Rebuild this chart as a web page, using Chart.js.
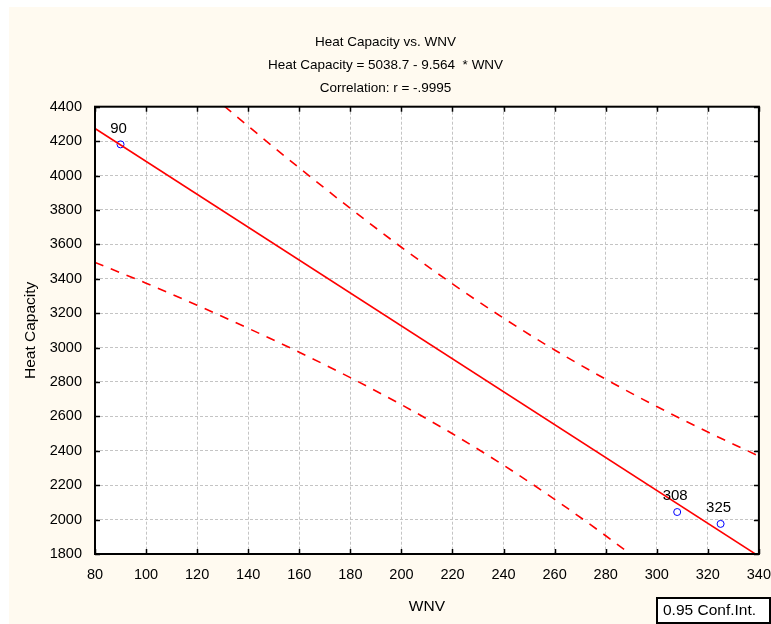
<!DOCTYPE html>
<html>
<head>
<meta charset="utf-8">
<script src="https://cdn.jsdelivr.net/npm/chart.js@4/dist/chart.umd.min.js"></script>
<style>
  html, body { margin: 0; padding: 0; background: #ffffff; }
  #c { display: block; }
</style>
</head>
<body>
<canvas id="c" width="771" height="624"></canvas>
<script>
// Observed cases (WNV, Heat Capacity) and their case labels
const wnvObs   = [90, 308, 325];
const heatObs  = [4181, 2044, 1975];
const obsLabels = ['90', '308', '325'];

// Fitted regression: Heat Capacity = 5038.7 - 9.564 * WNV
const fitIntercept = 5038.7;
const fitSlope = -9.564;
const fitRange = [80, 340];

// 0.95 confidence band around the fit
const bandX     = [80, 100, 120, 140, 160, 180, 200, 220, 240, 260, 280, 300, 320, 340];
const bandUpper = [5045, 4789, 4536, 4287, 4044, 3809, 3583, 3370, 3171, 2986, 2816, 2657, 2509, 2369];
const bandLower = [3495, 3374, 3246, 3112, 2973, 2825, 2668, 2499, 2316, 2118, 1906, 1682, 1447, 1205];

// Axis ticks
const xTicks = [80, 100, 120, 140, 160, 180, 200, 220, 240, 260, 280, 300, 320, 340];
const yTicks = [1800, 2000, 2200, 2400, 2600, 2800, 3000, 3200, 3400, 3600, 3800, 4000, 4200, 4400];

// Text
const titleLines = ['Heat Capacity vs. WNV', 'Heat Capacity = 5038.7 - 9.564  * WNV', 'Correlation: r = -.9995'];
const xTitle = 'WNV';
const yTitle = 'Heat Capacity';
const bandLegend = '0.95 Conf.Int.';

const FONT = "'Liberation Sans', Arial, Helvetica, sans-serif";
const CREAM = '#fffaf0';
const RED = '#ff0000';

// Page background: cream panel and white plotting area
const backgroundPlugin = {
  id: 'panelBackground',
  beforeDraw(chart) {
    const { ctx, chartArea: a } = chart;
    ctx.save();
    ctx.fillStyle = '#ffffff';
    ctx.fillRect(0, 0, chart.width, chart.height);
    ctx.fillStyle = CREAM;
    ctx.fillRect(9, 7, chart.width - 9, chart.height - 7);
    ctx.fillStyle = '#ffffff';
    ctx.fillRect(a.left, a.top, a.right - a.left, a.bottom - a.top);
    ctx.restore();
  }
};

// Box frame with inward tick marks on all four sides
const framePlugin = {
  id: 'boxFrame',
  afterDatasetsDraw(chart) {
    const { ctx, chartArea: a, scales } = chart;
    const len = 5;
    ctx.save();
    ctx.strokeStyle = '#000000';
    ctx.lineWidth = 1.5;
    ctx.beginPath();
    xTicks.forEach(v => {
      const px = Math.round(scales.x.getPixelForValue(v)) + 0.5;
      ctx.moveTo(px, a.bottom); ctx.lineTo(px, a.bottom - len);
      ctx.moveTo(px, a.top); ctx.lineTo(px, a.top + len);
    });
    yTicks.forEach(v => {
      const py = Math.round(scales.y.getPixelForValue(v)) + 0.5;
      ctx.moveTo(a.left, py); ctx.lineTo(a.left + len, py);
      ctx.moveTo(a.right, py); ctx.lineTo(a.right - len, py);
    });
    ctx.stroke();
    ctx.lineWidth = 2;
    ctx.strokeRect(a.left, a.top, a.right - a.left, a.bottom - a.top);
    ctx.restore();
  }
};

// Case labels above the observed points
const caseLabelPlugin = {
  id: 'caseLabels',
  afterDatasetsDraw(chart) {
    const { ctx } = chart;
    const meta = chart.getDatasetMeta(3);
    ctx.save();
    ctx.fillStyle = '#000000';
    ctx.font = '15px ' + FONT;
    ctx.textAlign = 'center';
    ctx.textBaseline = 'middle';
    meta.data.forEach((pt, i) => {
      ctx.fillText(obsLabels[i], pt.x - 2, pt.y - 16);
    });
    ctx.restore();
  }
};

// Legend box for the confidence band, bottom right
const bandLegendPlugin = {
  id: 'bandLegend',
  afterDraw(chart) {
    const { ctx } = chart;
    ctx.save();
    ctx.fillStyle = '#ffffff';
    ctx.fillRect(657, 598, 113, 25);
    ctx.strokeStyle = '#000000';
    ctx.lineWidth = 2;
    ctx.strokeRect(657, 598, 113, 25);
    ctx.fillStyle = '#000000';
    ctx.font = '15.5px ' + FONT;
    ctx.textAlign = 'left';
    ctx.textBaseline = 'middle';
    ctx.fillText(bandLegend, 663, 611);
    ctx.restore();
  }
};

const gridCommon = { color: '#c4c4c4', lineWidth: 1, drawTicks: false, borderDash: [3, 2] };
const borderCommon = { display: false, dash: [3, 2] };
const plainNumber = v => String(v);

new Chart(document.getElementById('c'), {
  type: 'scatter',
  data: {
    datasets: [
      {
        type: 'line',
        data: bandX.map((x, i) => ({ x, y: bandUpper[i] })),
        borderColor: RED, borderWidth: 1.6, borderDash: [9, 8],
        pointRadius: 0, cubicInterpolationMode: 'monotone', fill: false, clip: 0
      },
      {
        type: 'line',
        data: bandX.map((x, i) => ({ x, y: bandLower[i] })),
        borderColor: RED, borderWidth: 1.6, borderDash: [9, 8],
        pointRadius: 0, cubicInterpolationMode: 'monotone', fill: false, clip: 0
      },
      {
        type: 'line',
        data: fitRange.map(x => ({ x, y: fitIntercept + fitSlope * x })),
        borderColor: RED, borderWidth: 1.6,
        pointRadius: 0, fill: false, clip: 0
      },
      {
        type: 'scatter',
        data: wnvObs.map((x, i) => ({ x, y: heatObs[i] })),
        pointRadius: 3.5, pointHoverRadius: 3.5,
        pointBorderColor: '#0000ff', pointBackgroundColor: 'rgba(0,0,0,0)',
        pointBorderWidth: 1, clip: false
      }
    ]
  },
  options: {
    responsive: false,
    animation: false,
    devicePixelRatio: 1,
    layout: { padding: { left: 12, right: 12, top: 0, bottom: 0 } },
    events: [],
    plugins: {
      legend: { display: false },
      tooltip: { enabled: false },
      title: {
        display: true,
        text: titleLines,
        color: '#000000',
        font: { family: FONT, size: 13.5, weight: 'normal', lineHeight: 23 / 13.5 },
        padding: { top: 30.5, bottom: 7.2 }
      }
    },
    scales: {
      x: {
        type: 'linear', position: 'bottom', min: 80, max: 340,
        afterBuildTicks: s => { s.ticks = xTicks.map(v => ({ value: v })); },
        afterFit: s => { s.height = 70; },
        ticks: { color: '#000000', padding: 0, font: { family: FONT, size: 14.5 }, callback: plainNumber },
        grid: { color: '#c4c4c4', lineWidth: 1, drawTicks: true, tickLength: 12, tickColor: 'rgba(0,0,0,0)', borderDash: [3, 2] },
        border: borderCommon,
        title: {
          display: true, text: xTitle, color: '#000000',
          font: { family: FONT, size: 15.5, lineHeight: 1.2 },
          padding: { top: 0, bottom: 7.7 }
        }
      },
      y: {
        type: 'linear', position: 'left', min: 1800, max: 4400,
        afterBuildTicks: s => { s.ticks = yTicks.map(v => ({ value: v })); },
        afterFit: s => { s.width = 83; },
        ticks: { color: '#000000', padding: 13, font: { family: FONT, size: 14.5 }, callback: plainNumber },
        grid: gridCommon,
        border: borderCommon,
        title: {
          display: true, text: yTitle, color: '#000000',
          font: { family: FONT, size: 15.5, lineHeight: 1.2 },
          padding: { top: 9.7, bottom: 0 }
        }
      }
    }
  },
  plugins: [backgroundPlugin, framePlugin, caseLabelPlugin, bandLegendPlugin]
});
</script>
</body>
</html>
